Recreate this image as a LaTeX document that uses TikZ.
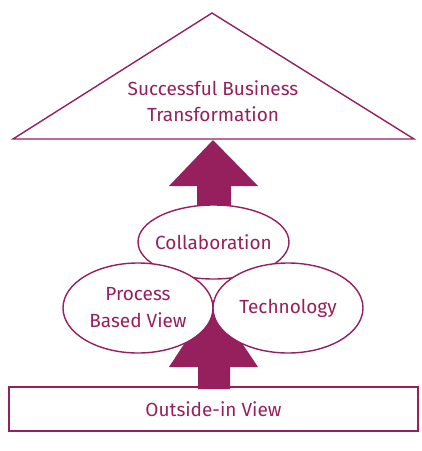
\documentclass[tikz,border=0pt]{standalone}
\usepackage{fontspec}
\setmainfont{Fira Sans}
\usetikzlibrary{shapes.geometric}
\definecolor{bizcolor0001}{RGB}{150,32,93}

\begin{document}
\begin{tikzpicture}[yscale=-1
,pstyle0/.style={color=bizcolor0001,fill=white,line width=1.4pt}
,pstyle1/.style={color=bizcolor0001,fill=bizcolor0001,line width=0pt}
,pstyle2/.style={ellipse,draw=bizcolor0001,fill=white,line width=1.4pt,minimum width=150pt,minimum height=90pt,inner sep=0,text=bizcolor0001,align=center,font=\fontsize{19pt}{27pt}\selectfont}
,pstyle3/.style={color=bizcolor0001,inner sep=0,align=center,font=\fontsize{19pt}{26pt}\selectfont}
]
\useasboundingbox (0pt,0pt) rectangle (422pt,451pt);
% top arrow and triangle
\fill[pstyle1] (197pt,206pt) -- (197pt,186pt) -- (169pt,186pt) -- (213pt,140pt) -- (258pt,186pt) -- (231pt,186pt) -- (231pt,206pt) -- cycle;
\draw[pstyle0] (212pt,13pt) -- (414pt,139pt) -- (13pt,139pt) -- cycle;
\node (goal) at (213pt,101pt)[pstyle3]{Successful Business\\Transformation};
% bottom arrow
\fill[pstyle1] (198pt,389pt) -- (198pt,367pt) -- (169pt,367pt) -- (213pt,300pt) -- (258pt,367pt) -- (230pt,367pt) -- (230pt,389pt) -- cycle;
% ellipses
\node (collab) at (213.5pt,242pt)[pstyle2,inner xsep=-12pt,minimum height=74pt,minimum width=151pt]{Collaboration};
\node (process) at (138pt,308pt)[pstyle2]{Process\\Based View};
\node (tech) at (288pt,308pt)[pstyle2]{Technology};
% base
\node (outside) at (213.5pt,409pt)[draw=bizcolor0001,line width=1.6pt,minimum width=409pt,minimum height=44pt,inner sep=0,text=bizcolor0001,font=\fontsize{19pt}{22pt}\selectfont]{Outside-in View};
\end{tikzpicture}
\end{document}
